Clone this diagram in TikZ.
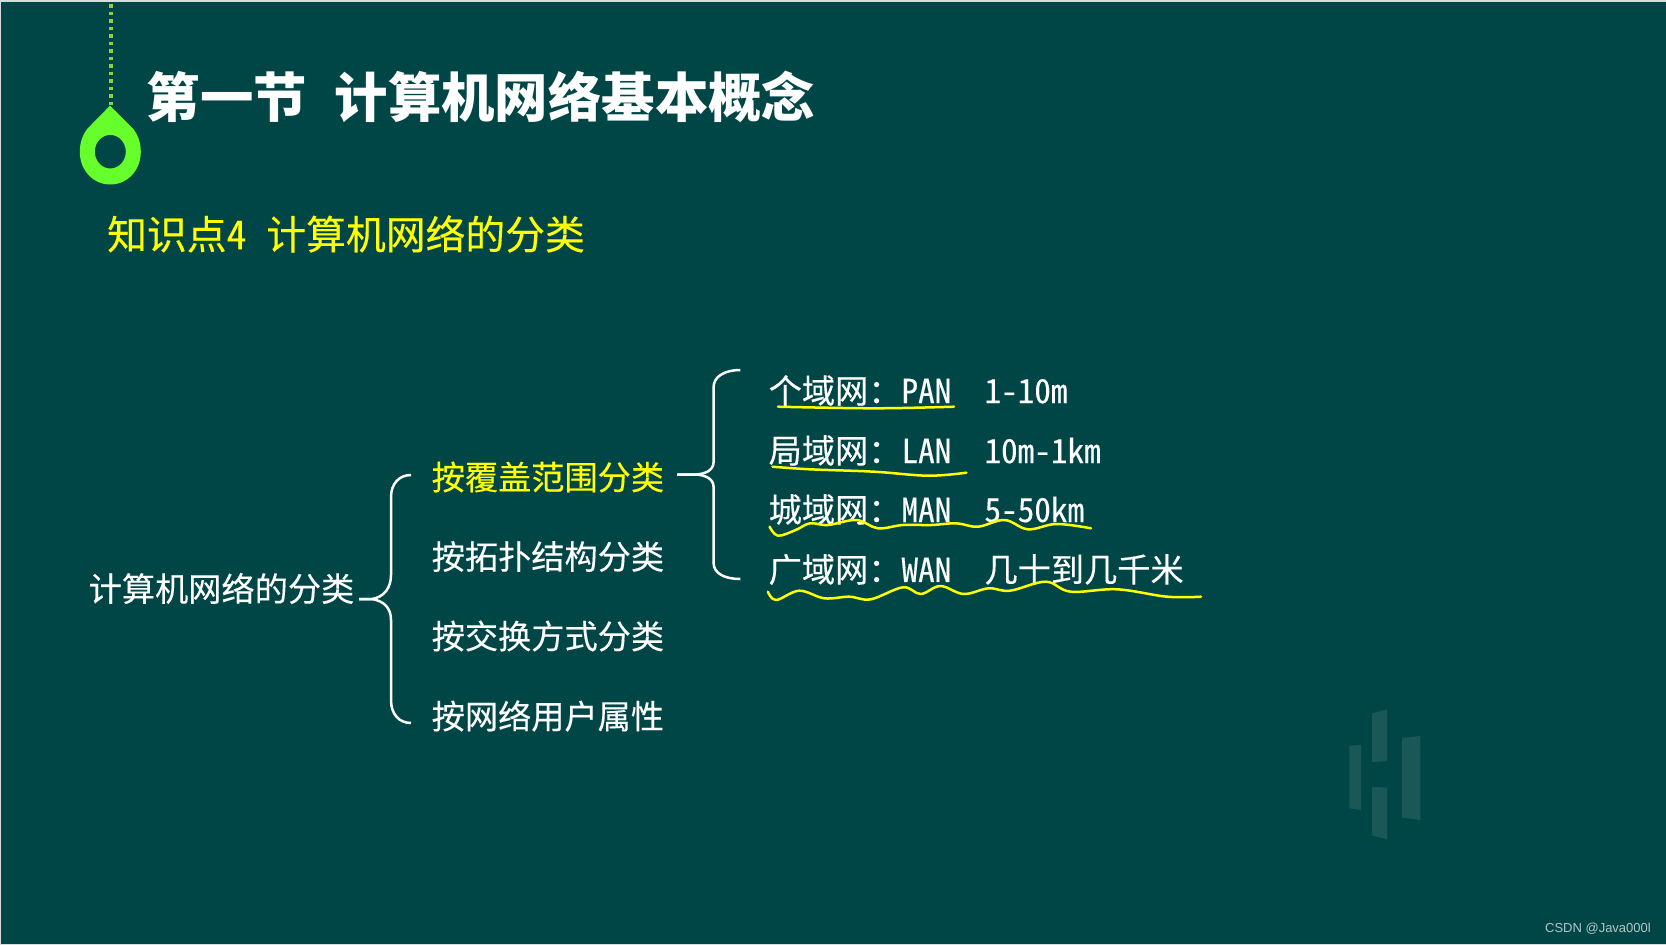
\documentclass[tikz,border=0pt]{standalone}
\usepackage{fontspec}
\setmainfont{Noto Sans CJK SC}[RawFeature=+hwid]
\newfontfamily\markfont{Liberation Sans}
\usetikzlibrary{positioning}
\definecolor{slide}{HTML}{004646}
\definecolor{edge}{HTML}{D8DCDC}
\definecolor{lime}{HTML}{66FF2B}
\definecolor{dots}{HTML}{8CD23C}
\definecolor{hilite}{HTML}{FFFF00}
\definecolor{ghost}{HTML}{1A5757}
\definecolor{stamp}{HTML}{B4C6C6}

\begin{document}
\begin{tikzpicture}[
  x=1pt, y=-1pt,
  title/.style  = {anchor=west, inner sep=0pt, text=white, font=\fontsize{53.4}{58}\selectfont\bfseries},
  topic/.style  = {anchor=west, inner sep=0pt, text=hilite, font=\fontsize{39.8}{44}\selectfont\addfontfeature{FakeBold=0.25}},
  item/.style   = {anchor=west, inner sep=0pt, text=white, font=\fontsize{33.2}{38}\selectfont\addfontfeature{FakeBold=0.25}},
  brc/.style    = {draw=white, line width=2.5pt},
  wavy/.style   = {draw=hilite, line width=2.5pt, line cap=round, line join=round},
  bar/.style    = {fill=ghost},
]
\useasboundingbox (0,0) rectangle (1666,945);

% ---------- slide ----------
\fill[edge] (0,0) rectangle (1666,945);
\fill[slide] (1,2) rectangle (1666,944);

% ---------- pin ----------
\draw[dots, line width=4pt, dash pattern=on 3.8pt off 3.7pt] (110.5,4) -- (110.5,106);
\fill[lime, even odd rule] (110,105.5)
  .. controls (103,113) and (96,120) .. (88,128)
  .. controls (83,134) and (79.8,142) .. (79.8,152)
  .. controls (79.8,170) and (93,184.5) .. (110.3,184.5)
  .. controls (127.6,184.5) and (140.8,170) .. (140.8,152)
  .. controls (140.8,142) and (137.6,134) .. (132.5,128)
  .. controls (124.5,120) and (117,113) .. (110,105.5) -- cycle
  (110.3,151.7) ellipse [x radius=15.5, y radius=16.8];

% ---------- headings ----------
\node[title] (head) at (146.5,97) {第一节\hspace{0.52em}计算机网络基本概念};
\node[topic] (sub) at (107,234) {知识点4\hspace{0.5em}计算机网络的分类};

% ---------- tree ----------
\node[item] (root) at (88.5,588.5) {计算机网络的分类};
\node[item, text=hilite] (cov) at (431.5,477) {按覆盖范围分类};
\node[item] (topo) at (431.5,556.5) {按拓扑结构分类};
\node[item] (swi) at (431.5,636) {按交换方式分类};
\node[item] (usr) at (431.5,716) {按网络用户属性};

\node[item] (pan) at (768.5,390.5) {个域网：PAN\hspace{1em}1-10m};
\node[item] (lan) at (768.5,450.5) {局域网：LAN\hspace{1em}10m-1km};
\node[item] (man) at (768.5,509.5) {城域网：MAN\hspace{1em}5-50km};
\node[item] (wan) at (768.5,569.5) {广域网：WAN\hspace{1em}几十到几千米};

% ---------- braces ----------
\coordinate (tipa) at (359,599);
\coordinate (tipb) at (677,474.5);

\draw[brc] (tipa) -- ++(13,0)
  .. controls (384,597) and (391,588) .. (391,575) -- (391,497)
  .. controls (391,484) and (399,475) .. (411,475);
\draw[brc] (tipa) -- ++(13,0)
  .. controls (384,601) and (391,608) .. (391,620) -- (391,700)
  .. controls (391,714) and (399,723) .. (411,723);
\draw[brc] (tipb) -- ++(19,0)
  .. controls (704,474) and (713.6,471) .. (713.6,462) -- (713.6,387)
  .. controls (713.6,377) and (724,370) .. (740.4,370);
\draw[brc] (tipb) -- ++(19,0)
  .. controls (704,475) and (713.6,478) .. (713.6,487) -- (713.6,563)
  .. controls (713.6,573) and (724,579) .. (740.4,579);

% ---------- pen marks ----------
\draw[wavy] plot[smooth, tension=0.6] coordinates {(778,406.7) (874,408.3) (954,406.7)};
\draw[wavy] plot[smooth, tension=0.6] coordinates {(772.5,466.7) (810,469.3) (874,471.7) (928,475.7) (966.4,472.7)};
\draw[wavy] plot[smooth, tension=0.6] coordinates {(769.6,526.7) (777.9,535.7) (795.7,530) (810,523.3) (827.9,525)
  (856.4,520) (877.9,528.3) (902.9,525) (931.4,525) (956.4,523.3) (977.9,526.7) (1004.6,520)
  (1027.9,529.3) (1056.4,524) (1091,528.3)};
\draw[wavy] plot[smooth, tension=0.6] coordinates {(767.9,591.7) (776.1,600) (799.3,590.7) (824.3,598.3) (849.3,596.7)
  (870.7,599.3) (902.9,587.3) (920.7,594) (940.4,586) (963.6,594) (988.6,588.3) (1010,590.7)
  (1045.7,581.7) (1070.7,591.7) (1117.1,589.3) (1167.1,596.7) (1201,596.7)};

% ---------- watermark ----------
\fill[bar] (1349.3,746) -- (1361,744.7) -- (1361,810) -- (1349.3,808.3) -- cycle;
\fill[bar] (1372,713.3) -- (1387,709.3) -- (1387,761) -- (1372,762) -- cycle;
\fill[bar] (1372,787) -- (1387,787.7) -- (1387,839.3) -- (1372,835.3) -- cycle;
\fill[bar] (1402,738) -- (1420.3,736) -- (1420.3,820) -- (1402,817.7) -- cycle;

\node[anchor=east, inner sep=0pt, text=stamp, font=\markfont\fontsize{13}{15}\selectfont] (csdn) at (1651,929) {CSDN @Java000l};

\end{tikzpicture}
\end{document}
